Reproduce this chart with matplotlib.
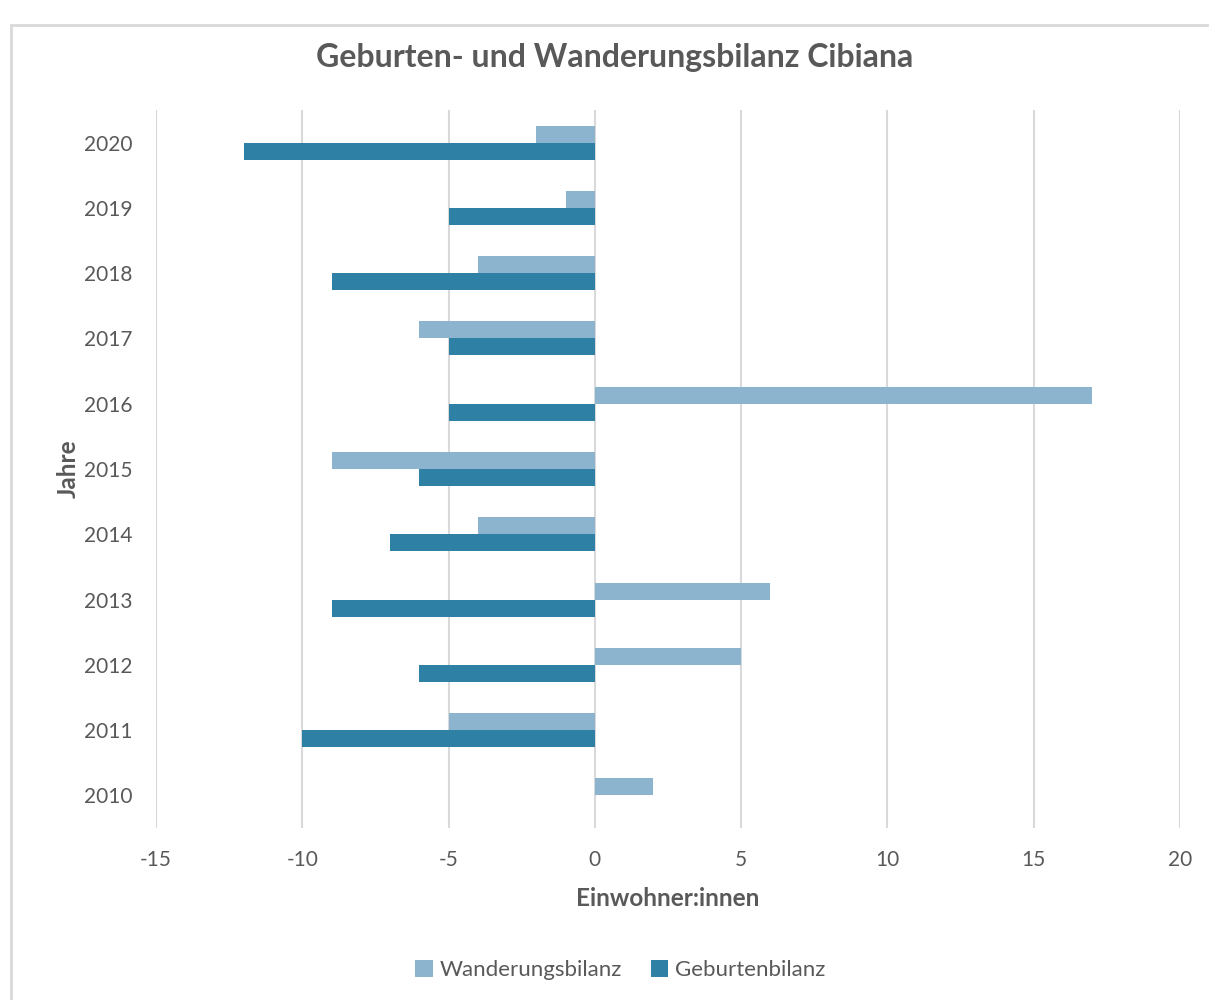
import matplotlib.pyplot as plt
import matplotlib.patches as mpatches
import numpy as np

plt.rcParams['font.family'] = ['Lato', 'DejaVu Sans']
plt.rcParams['axes.unicode_minus'] = False

years = ['2010', '2011', '2012', '2013', '2014', '2015', '2016', '2017', '2018', '2019', '2020']
wanderung = [2, -5, 5, 6, -4, -9, 17, -6, -4, -1, -2]
geburten = [0, -10, -6, -9, -7, -6, -5, -5, -9, -5, -12]

c_light = '#8DB4CE'
c_dark = '#2E80A5'
txt = '#595959'

fig = plt.figure(figsize=(12.09, 10), dpi=100)
# outer chart border
fig.patches.append(mpatches.Rectangle((11 / 1209, -0.01), 1.0, 0.995 - 10 / 1000,
                                      transform=fig.transFigure, fill=False,
                                      edgecolor='#D9D9D9', linewidth=2))
ax = fig.add_axes([156 / 1209, 0.172, (1180 - 156) / 1209, 0.718])

y = np.arange(len(years))
h = 0.26
ax.barh(y + h / 2, wanderung, height=h, color=c_light, label='Wanderungsbilanz', zorder=3)
ax.barh(y - h / 2, geburten, height=h, color=c_dark, label='Geburtenbilanz', zorder=3)

ax.set_xlim(-15, 20)
ax.set_ylim(-0.5, len(years) - 0.5)
ax.set_xticks(range(-15, 21, 5))
ax.set_yticks(y)
ax.set_yticklabels(years)
ax.tick_params(length=0, labelsize=15, labelcolor=txt)
ax.tick_params(axis='y', pad=17)
ax.tick_params(axis='x', pad=16)
ax.grid(axis='x', color='#D9D9D9', linewidth=1.5, zorder=0)
for s in ax.spines.values():
    s.set_visible(False)

ax.set_xlabel('Einwohner:innen', fontsize=17.5, fontweight='bold', color=txt, labelpad=12)
ax.set_ylabel('Jahre', fontsize=17.5, fontweight='bold', color=txt, labelpad=3)
fig.text(0.508, 0.942, 'Geburten- und Wanderungsbilanz Cibiana', ha='center', va='center',
         fontsize=23, fontweight='bold', color=txt)

fig.legend(loc='center', bbox_to_anchor=(0.513, 0.03), ncol=2, frameon=False,
           fontsize=16, labelcolor=txt, handlelength=0.8, handleheight=0.8,
           handletextpad=0.3, columnspacing=1.3)

plt.savefig('out.png', dpi=100, facecolor='white')
